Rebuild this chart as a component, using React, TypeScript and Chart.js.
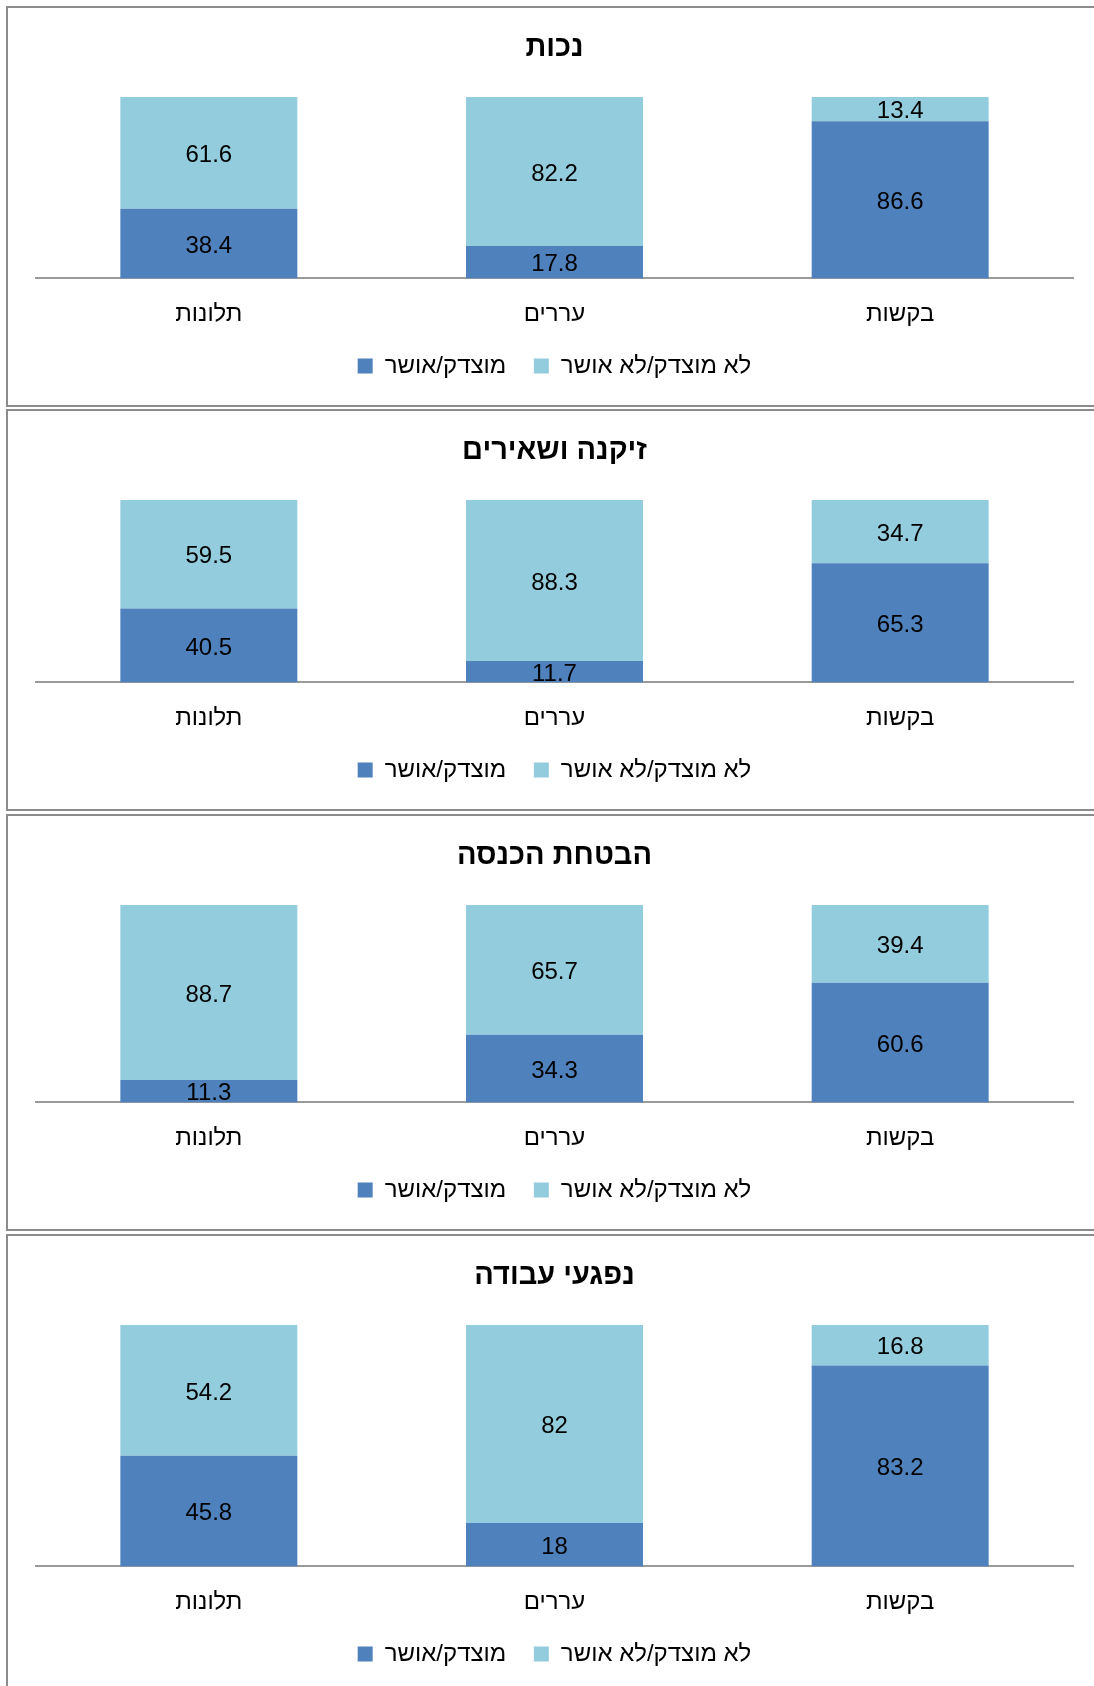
import React, { useEffect, useRef } from 'react';
import { Chart, registerables } from 'chart.js';

Chart.register(...registerables);

// ---- Data ----
const categories = ['בקשות', 'עררים', 'תלונות'];
const justifiedLabel = 'מוצדק/אושר';
const notJustifiedLabel = 'לא מוצדק/לא אושר';

const disabilityTitle = 'נכות';
const disabilityJustified = [86.6, 17.8, 38.4];
const disabilityNotJustified = [13.4, 82.2, 61.6];

const oldAgeTitle = 'זיקנה ושאירים';
const oldAgeJustified = [65.3, 11.7, 40.5];
const oldAgeNotJustified = [34.7, 88.3, 59.5];

const incomeTitle = 'הבטחת הכנסה';
const incomeJustified = [60.6, 34.3, 11.3];
const incomeNotJustified = [39.4, 65.7, 88.7];

const workInjuryTitle = 'נפגעי עבודה';
const workInjuryJustified = [83.2, 18, 45.8];
const workInjuryNotJustified = [16.8, 82, 54.2];

// ---- Styles ----
const FONT = "'Liberation Sans', 'DejaVu Sans', sans-serif";
const DARK = '#4F81BD';
const LIGHT = '#93CDDD';

const valueLabels = {
  id: 'valueLabels',
  afterDatasetsDraw(chart: any) {
    const ctx = chart.ctx;
    ctx.save();
    ctx.font = `24px ${FONT}`;
    ctx.fillStyle = '#000';
    ctx.textAlign = 'center';
    ctx.textBaseline = 'middle';
    chart.data.datasets.forEach((ds: any, di: number) => {
      const meta = chart.getDatasetMeta(di);
      meta.data.forEach((el: any, i: number) => {
        const p = el.getProps(['x', 'y', 'base'], true);
        ctx.fillText(String(ds.data[i]), p.x, (p.y + p.base) / 2 + 2.5);
      });
    });
    ctx.restore();
  },
};

type PanelProps = {
  title: string;
  justified: number[];
  notJustified: number[];
  height: number;
};

function Panel({ title, justified, notJustified, height }: PanelProps) {
  const ref = useRef<HTMLCanvasElement | null>(null);
  useEffect(() => {
    if (!ref.current) return;
    const chart = new Chart(ref.current, {
      type: 'bar',
      data: {
        labels: categories,
        datasets: [
          {
            label: justifiedLabel,
            data: justified,
            backgroundColor: DARK,
            borderWidth: 0,
            categoryPercentage: 1,
            barPercentage: 0.512,
          },
          {
            label: notJustifiedLabel,
            data: notJustified,
            backgroundColor: LIGHT,
            borderWidth: 0,
            categoryPercentage: 1,
            barPercentage: 0.512,
          },
        ],
      },
      options: {
        responsive: false,
        animation: false,
        devicePixelRatio: 1,
        layout: { padding: { left: 28, right: 28, top: 0, bottom: 17 } },
        scales: {
          x: {
            stacked: true,
            reverse: true,
            grid: { display: false, drawTicks: false },
            border: { display: true, color: '#9a9a9a', width: 2 },
            ticks: { color: '#000', font: { family: FONT, size: 24 }, padding: 22 },
            afterFit: (axis: any) => {
              axis.height -= 24.8;
            },
          },
          y: {
            stacked: true,
            display: false,
            min: 0,
            max: 100,
          },
        },
        plugins: {
          title: {
            display: true,
            text: title,
            color: '#000',
            font: { family: FONT, size: 29, weight: 'bold' },
            padding: { top: 22.6, bottom: 31.6 },
          },
          legend: {
            position: 'bottom',
            labels: {
              color: '#000',
              font: { family: FONT, size: 24 },
              boxWidth: 15,
              boxHeight: 15,
              padding: 27.6,
            },
          },
          tooltip: { enabled: false },
        },
      },
      plugins: [valueLabels],
    } as any);
    return () => chart.destroy();
  }, [title, justified, notJustified, height]);
  return <canvas ref={ref} width={1093} height={height} style={{ display: 'block' }} />;
}

const panels = [
  { title: disabilityTitle, justified: disabilityJustified, notJustified: disabilityNotJustified, top: 6, height: 397 },
  { title: oldAgeTitle, justified: oldAgeJustified, notJustified: oldAgeNotJustified, top: 409, height: 398 },
  { title: incomeTitle, justified: incomeJustified, notJustified: incomeNotJustified, top: 814, height: 413 },
  { title: workInjuryTitle, justified: workInjuryJustified, notJustified: workInjuryNotJustified, top: 1234, height: 457 },
];

export default function App() {
  return (
    <div
      style={{
        position: 'absolute',
        left: 0,
        top: 0,
        width: 1094,
        height: 1686,
        overflow: 'hidden',
        background: '#fff',
      }}
    >
      {panels.map((p) => (
        <div
          key={p.title}
          style={{
            position: 'absolute',
            left: 6,
            top: p.top,
            width: 1093,
            height: p.height,
            border: '2px solid #8c8c8c',
            background: '#fff',
          }}
        >
          <Panel title={p.title} justified={p.justified} notJustified={p.notJustified} height={p.height} />
        </div>
      ))}
    </div>
  );
}
